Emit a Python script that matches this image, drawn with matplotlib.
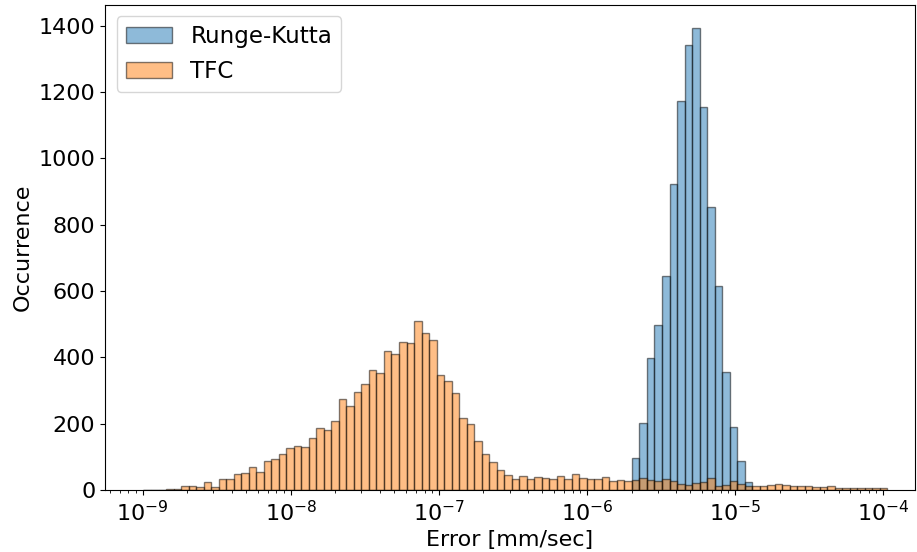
import numpy as np
import matplotlib
matplotlib.use("Agg")
import matplotlib.pyplot as plt

# log10 bin edges shared by both histograms (99 bins)
log_start = -8.9946
log_stop = -3.971
n_edges = 100

# counts per bin
tfc_counts = [
    0, 1, 1, 2, 4, 13, 13, 9, 23, 8,
    32, 32, 48, 50, 70, 53, 87, 94, 110, 127,
    132, 130, 157, 186, 180, 207, 274, 254, 297, 319,
    361, 354, 420, 410, 447, 444, 511, 472, 452, 346,
    329, 293, 218, 198, 148, 110, 84, 60, 45, 33,
    41, 32, 38, 35, 32, 41, 32, 47, 37, 34,
    34, 38, 27, 31, 26, 29, 37, 30, 27, 33,
    27, 18, 15, 20, 23, 35, 13, 15, 26, 18,
    12, 13, 11, 15, 17, 15, 12, 12, 12, 8,
    8, 11, 5, 5, 6, 6, 6, 5, 5,
]
rk_first_bin = 65
rk_values = [97, 203, 397, 497, 644, 923, 1173, 1343, 1394, 1154,
             852, 615, 356, 190, 87, 25]

edges = np.logspace(log_start, log_stop, n_edges)
centers = np.sqrt(edges[:-1] * edges[1:])
rk_counts = np.zeros(len(centers))
rk_counts[rk_first_bin:rk_first_bin + len(rk_values)] = rk_values

plt.rcParams["font.size"] = 16

fig = plt.figure(figsize=(9.17, 5.52), dpi=100)
ax = fig.add_axes([0.1145, 0.1123, 0.8833, 0.8795])

ax.hist(centers, bins=edges, weights=rk_counts, alpha=0.5,
        edgecolor="black", label="Runge-Kutta")
ax.hist(centers, bins=edges, weights=tfc_counts, alpha=0.5,
        edgecolor="black", label="TFC")

ax.set_xscale("log")
ax.set_xlim(10 ** -9.2546, 10 ** -3.785)
ax.set_xlabel("Error [mm/sec]")
ax.set_ylabel("Occurrence")
ax.legend(loc="upper left", fontsize=16.6)

fig.savefig("out.png", dpi=100)
